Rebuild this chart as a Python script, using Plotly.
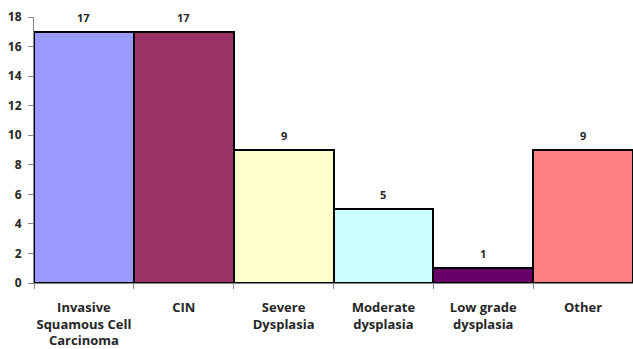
import plotly.graph_objects as go

categories = ["Invasive<br>Squamous Cell<br>Carcinoma", "CIN", "Severe<br>Dysplasia",
              "Moderate<br>dysplasia", "Low grade<br>dysplasia", "Other"]
values = [17, 17, 9, 5, 1, 9]
colors = ["#9999FF", "#993366", "#FFFFCC", "#CCFFFF", "#660066", "#FF8080"]

FONT = "Open Sans, Lato, sans-serif"

fig = go.Figure(go.Bar(
    x=categories, y=values,
    marker=dict(color=colors, line=dict(color="black", width=2)),
    cliponaxis=False, width=1.0,
))
for c, v in zip(categories, values):
    fig.add_annotation(x=c, y=v, text=f"<b>{v}</b>", showarrow=False,
                       yanchor="bottom", yshift=5,
                       font=dict(family=FONT, size=11, color="#262626"))

fig.update_layout(
    width=633, height=349,
    margin=dict(l=34, r=0, t=17, b=66),
    plot_bgcolor="white", paper_bgcolor="white",
    bargap=0, showlegend=False,
    font=dict(family=FONT, color="#262626"),
)
fig.update_xaxes(
    type="category", tickson="boundaries", ticks="outside", ticklen=5,
    tickcolor="#868686", showline=True, linecolor="#868686", linewidth=1,
    showgrid=False, automargin=False, ticklabelstandoff=12, tickangle=0,
    tickfont=dict(size=13, family=FONT, weight="bold"),
)
fig.update_yaxes(
    range=[0, 18], dtick=2, ticks="outside", ticklen=5, tickcolor="#868686",
    showline=True, linecolor="#868686", linewidth=1, showgrid=False, zeroline=False,
    automargin=False, ticklabelstandoff=4,
    tickfont=dict(size=12, family=FONT, weight="bold"),
)
fig.write_html("out.html", config={"displayModeBar": False},
               post_script="document.body.style.margin='0';")
